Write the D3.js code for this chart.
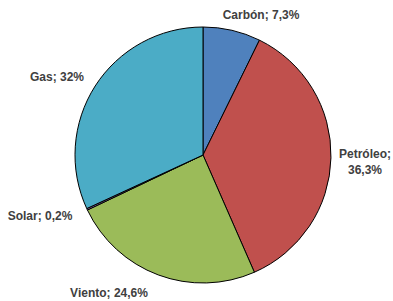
<!DOCTYPE html>
<html>
<head>
<meta charset="utf-8">
<script src="https://cdn.jsdelivr.net/npm/d3@7"></script>
<style>
body { margin: 0; background: #fff; }
text { font-family: "Liberation Sans", Arial, sans-serif; font-weight: bold; font-size: 12px; fill: #404040; }
</style>
</head>
<body>
<svg width="393" height="301"></svg>
<script>
var categories = ["Carbón", "Petróleo", "Viento", "Solar", "Gas"];
var values = [7.3, 36.3, 24.6, 0.2, 32];
var labels = ["7,3%", "36,3%", "24,6%", "0,2%", "32%"];
var colors = ["#4f81bd", "#c0504d", "#9bbb59", "#8064a2", "#4bacc6"];

var svg = d3.select("svg");
var cx = 203, cy = 155, r = 128;

var pie = d3.pie().sort(null).value(function(d) { return d; });
var arcs = pie(values);
var arc = d3.arc().innerRadius(0).outerRadius(r);

var g = svg.append("g").attr("transform", "translate(" + cx + "," + cy + ")");
g.selectAll("path").data(arcs).enter().append("path")
  .attr("d", arc)
  .style("fill", function(d, i) { return colors[i]; })
  .style("stroke", "#000")
  .style("stroke-width", 1);

// label placement in page coordinates
var labelPos = [
  {x: 261, y: 19, lines: [categories[0] + "; " + labels[0]]},
  {x: 365, y: 158, lines: [categories[1] + ";", labels[1]]},
  {x: 109, y: 297, lines: [categories[2] + "; " + labels[2]]},
  {x: 40, y: 220, lines: [categories[3] + "; " + labels[3]]},
  {x: 57, y: 81, lines: [categories[4] + "; " + labels[4]]}
];

labelPos.forEach(function(p) {
  var t = svg.append("text").attr("x", p.x).attr("y", p.y).attr("text-anchor", "middle");
  p.lines.forEach(function(l, j) {
    t.append("tspan").attr("x", p.x).attr("dy", j == 0 ? 0 : 16).text(l);
  });
});
</script>
</body>
</html>
